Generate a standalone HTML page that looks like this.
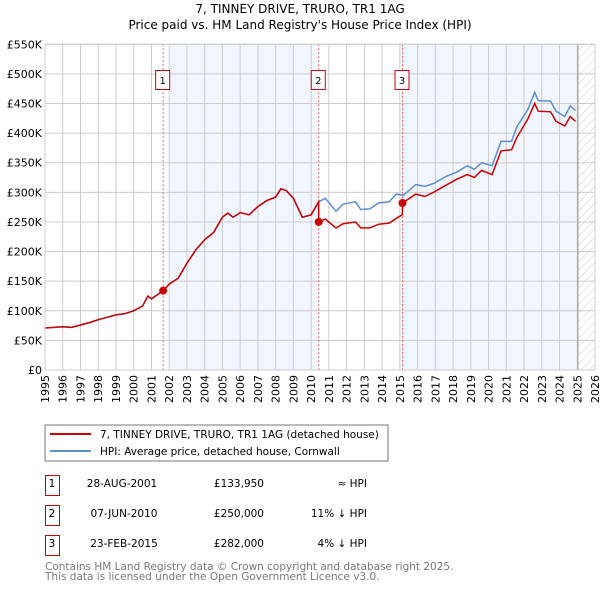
<!DOCTYPE html>
<html><head><meta charset="utf-8"><style>
body{margin:0;background:#fff;font-family:"Liberation Sans","DejaVu Sans",sans-serif;}
svg text{font-family:"DejaVu Sans","Liberation Sans",sans-serif;}
</style></head><body>
<svg id="c" width="600" height="590" xmlns="http://www.w3.org/2000/svg">
<defs><pattern id="hatch" width="6" height="6" patternUnits="userSpaceOnUse" patternTransform="rotate(45)"><line x1="0" y1="0" x2="0" y2="6" stroke="#ccc" stroke-width="1"/></pattern></defs>
<text x="300" y="13" text-anchor="middle" font-size="12" fill="#000">7, TINNEY DRIVE, TRURO, TR1 1AG</text>
<text x="300" y="29" text-anchor="middle" font-size="12" fill="#000">Price paid vs. HM Land Registry's House Price Index (HPI)</text>
<g id="plot"></g>
<rect x="45" y="425" width="343" height="36" fill="#fff" stroke="#777"/>
<line x1="50" y1="434" x2="91" y2="434" stroke="#cc0000" stroke-width="2"/>
<text x="100" y="438" font-size="10.5">7, TINNEY DRIVE, TRURO, TR1 1AG (detached house)</text>
<line x1="50" y1="451" x2="91" y2="451" stroke="#5b8fd4" stroke-width="2"/>
<text x="100" y="455" font-size="10.5">HPI: Average price, detached house, Cornwall</text>
<g font-size="10.5">
<rect x="45.5" y="475.5" width="14" height="20" fill="none" stroke="#cc0000"/><text x="52" y="487" text-anchor="middle">1</text>
<text x="122" y="487" text-anchor="middle">28-AUG-2001</text><text x="264" y="487" text-anchor="end">£133,950</text><text x="367" y="487" text-anchor="end">≈ HPI</text>
<rect x="45.5" y="505.5" width="14" height="20" fill="none" stroke="#cc0000"/><text x="52" y="517" text-anchor="middle">2</text>
<text x="124" y="517" text-anchor="middle">07-JUN-2010</text><text x="264" y="517" text-anchor="end">£250,000</text><text x="367" y="517" text-anchor="end">11% ↓ HPI</text>
<rect x="45.5" y="535.5" width="14" height="20" fill="none" stroke="#cc0000"/><text x="52" y="547" text-anchor="middle">3</text>
<text x="124" y="547" text-anchor="middle">23-FEB-2015</text><text x="264" y="547" text-anchor="end">£282,000</text><text x="367" y="547" text-anchor="end">4% ↓ HPI</text>
</g>
<text x="45" y="570" font-size="10.5" fill="#777">Contains HM Land Registry data © Crown copyright and database right 2025.</text>
<text x="45" y="580" font-size="10.5" fill="#777">This data is licensed under the Open Government Licence v3.0.</text>
</svg>
<script>
const years=[1995,1996,1997,1998,1999,2000,2001,2002,2003,2004,2005,2006,2007,2008,2009,2010,2011,2012,2013,2014,2015,2016,2017,2018,2019,2020,2021,2022,2023,2024,2025,2026];
const yTicks=[0,50,100,150,200,250,300,350,400,450,500,550];
const yTickLabels=["£0","£50K","£100K","£150K","£200K","£250K","£300K","£350K","£400K","£450K","£500K","£550K"];
const hpiT=[1995,1995.5,1996,1996.5,1997,1997.5,1998,1998.5,1999,1999.5,2000,2000.5,2000.8,2001,2001.66,2002,2002.5,2003,2003.5,2004,2004.5,2005,2005.3,2005.6,2006,2006.5,2007,2007.5,2008,2008.3,2008.6,2009,2009.5,2010,2010.43,2010.8,2011.4,2011.8,2012.5,2012.8,2013.3,2013.8,2014.4,2014.8,2015.2,2015.9,2016.4,2016.9,2017.6,2018.2,2018.8,2019.2,2019.6,2020.2,2020.7,2021.3,2021.6,2022.2,2022.6,2022.8,2023.5,2023.8,2024.3,2024.6,2024.9];
const hpiV=[71,72,73,72,76,80,85,89,93,95,100,108,125,120,134,145,155,180,203,220,232,258,265,258,266,262,276,286,292,306,303,290,258,262,284,290,268,280,284,271,272,282,284,297,295,313,310,315,327,334,345,339,350,345,386,386,411,439,469,455,454,437,428,446,438];
const ppT=[1995,1995.5,1996,1996.5,1997,1997.5,1998,1998.5,1999,1999.5,2000,2000.5,2000.8,2001,2001.66,2002,2002.5,2003,2003.5,2004,2004.5,2005,2005.3,2005.6,2006,2006.5,2007,2007.5,2008,2008.3,2008.6,2009,2009.5,2010,2010.42,2010.43,2010.8,2011.4,2011.8,2012.5,2012.8,2013.3,2013.8,2014.4,2014.9,2015.14,2015.15,2015.9,2016.4,2016.9,2017.6,2018.2,2018.8,2019.2,2019.6,2020.2,2020.7,2021.3,2021.6,2022.2,2022.6,2022.8,2023.5,2023.8,2024.3,2024.6,2024.9];
const ppV=[71,72,73,72,76,80,85,89,93,95,100,108,125,120,134,145,155,180,203,220,232,258,265,258,266,262,276,286,292,306,303,290,258,262,284,250,255,240,247,250,240,240,246,248,258,262,282,297,293,300,312,322,330,325,337,330,370,372,393,423,450,437,436,420,412,428,420];
const saleT=[2001.66,2010.43,2015.15];
const saleV=[133.95,250,282];
const saleLabels=["1","2","3"];
const NS="http://www.w3.org/2000/svg";
const X0=45,X1=595,Y0=370,Y1=44.3;
const xs=t=>X0+(t-1995)/(2026-1995)*(X1-X0);
const ys=v=>Y0-v/550*(Y0-Y1);
const g=document.getElementById('plot');
function mk(tag,a){const e=document.createElementNS(NS,tag);for(const k in a)e.setAttribute(k,a[k]);g.appendChild(e);return e;}
let e;
e=mk('rect',{x:X0,y:Y1,width:X1-X0,height:Y0-Y1,fill:'#fff'});


e=mk('rect',{x:170,y:Y1,width:xs(saleT[1])-170,height:Y0-Y1,fill:'#eef2fc',opacity:0.8});


e=mk('rect',{x:xs(saleT[2]),y:Y1,width:578-xs(saleT[2]),height:Y0-Y1,fill:'#eef2fc',opacity:0.8});


e=mk('rect',{x:578,y:Y1,width:X1-578,height:Y0-Y1,fill:'url(#hatch)'});


years.forEach(y=>{const x=xs(y);
 e=mk('line',{x1:x,x2:x,y1:Y1,y2:Y0,stroke:'#ccc','stroke-width':1});
 
 
 e=mk('text',{x:0,y:0,'font-size':11,transform:`translate(${x+4},${Y0+5}) rotate(-90)`,'text-anchor':'end'});e.textContent=y;
 
 
});
yTicks.forEach((v,i)=>{const y=ys(v);
 e=mk('line',{x1:X0,x2:X1,y1:y,y2:y,stroke:'#ccc','stroke-width':1});
 
 
 e=mk('text',{x:X0-3,y:y+4,'font-size':11,'text-anchor':'end'});e.textContent=yTickLabels[i];
 
 
});
e=mk('line',{x1:578,x2:578,y1:Y1,y2:Y0,stroke:'#999','stroke-width':1});


saleT.forEach((t,i)=>{const x=xs(t);
 e=mk('line',{x1:x,x2:x,y1:Y1,y2:Y0,stroke:'#e06060','stroke-width':1,'stroke-dasharray':'2,2'});
 
 
 e=mk('rect',{x:x-7.5,y:70.5,width:14,height:19,fill:'#fff',stroke:'#cc0000'});
 
 
 e=mk('text',{x:x-0.5,y:84,'font-size':10,'text-anchor':'middle'});e.textContent=saleLabels[i];
 
 
});
e=mk('path',{d:hpiT.map((t,i)=>(i?'L':'M')+xs(t).toFixed(1)+','+ys(hpiV[i]).toFixed(1)).join(''),fill:'none',stroke:'#5b8fd4','stroke-width':1.5});


e=mk('path',{d:ppT.map((t,i)=>(i?'L':'M')+xs(t).toFixed(1)+','+ys(ppV[i]).toFixed(1)).join(''),fill:'none',stroke:'#cc0000','stroke-width':1.5});


saleT.forEach((t,i)=>{
 e=mk('circle',{cx:xs(t),cy:ys(saleV[i]),r:4,fill:'#cc0000'});
 
 
});
e=mk('rect',{x:X0,y:Y1,width:X1-X0,height:Y0-Y1,fill:'none',stroke:'#ccc'});


</script>
</body></html>
